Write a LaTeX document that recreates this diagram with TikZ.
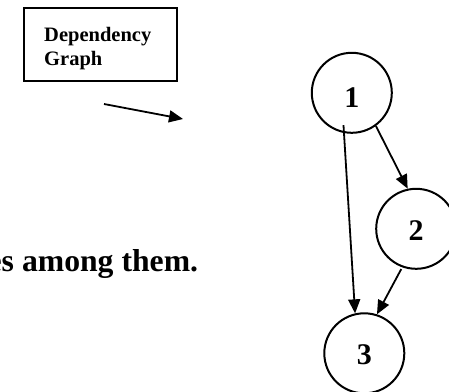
\documentclass[tikz,border=0pt]{standalone}
\usepackage{fontspec}
\setmainfont{Liberation Serif}
\usetikzlibrary{arrows.meta}
\begin{document}
\begin{tikzpicture}[x=1pt,y=-1pt,
  circ/.style={circle,draw,line width=2pt,minimum size=80pt,inner sep=0pt,font=\fontsize{30}{30}\selectfont\bfseries,text height=23pt},
  arr/.style={line width=1.8pt,-{Triangle[length=14pt,width=12pt]}},
  boxtxt/.style={font=\fontsize{20.5}{24}\selectfont\bfseries,inner sep=0pt},
  bigtxt/.style={font=\fontsize{31.7}{36}\selectfont\bfseries,inner sep=0pt}]
\useasboundingbox (0,0) rectangle (449,391);
\clip (0,0) rectangle (449,391);
\node[draw,line width=2.2pt,minimum width=153pt,minimum height=72.7pt,inner sep=0pt] (box) at (100.5,44.7) {};
\node[boxtxt,anchor=base west] (t1) at (44,41) {Dependency};
\node[boxtxt,anchor=base west] (t2) at (44,65) {Graph};
\node[bigtxt,anchor=base east] (big) at (198.3,271) {es among them.};
\coordinate (a0) at (104,104);
\coordinate (a1) at (183,119);
\draw[arr] (a0) -- (a1);
\node[circ,text height=29pt] (n1) at (351.8,92.8) {1};
\node[circ] (n2) at (416.2,228.8) {2};
\node[circ] (n3) at (364.3,353.3) {3};
\draw[arr,shorten <=-8pt] (n1.259) -- (n3.103);
\draw[arr] (n1.306) -- (n2.102);
\draw[arr,shorten <=2pt] (n2.250) -- (n3.72);
\end{tikzpicture}
\end{document}
